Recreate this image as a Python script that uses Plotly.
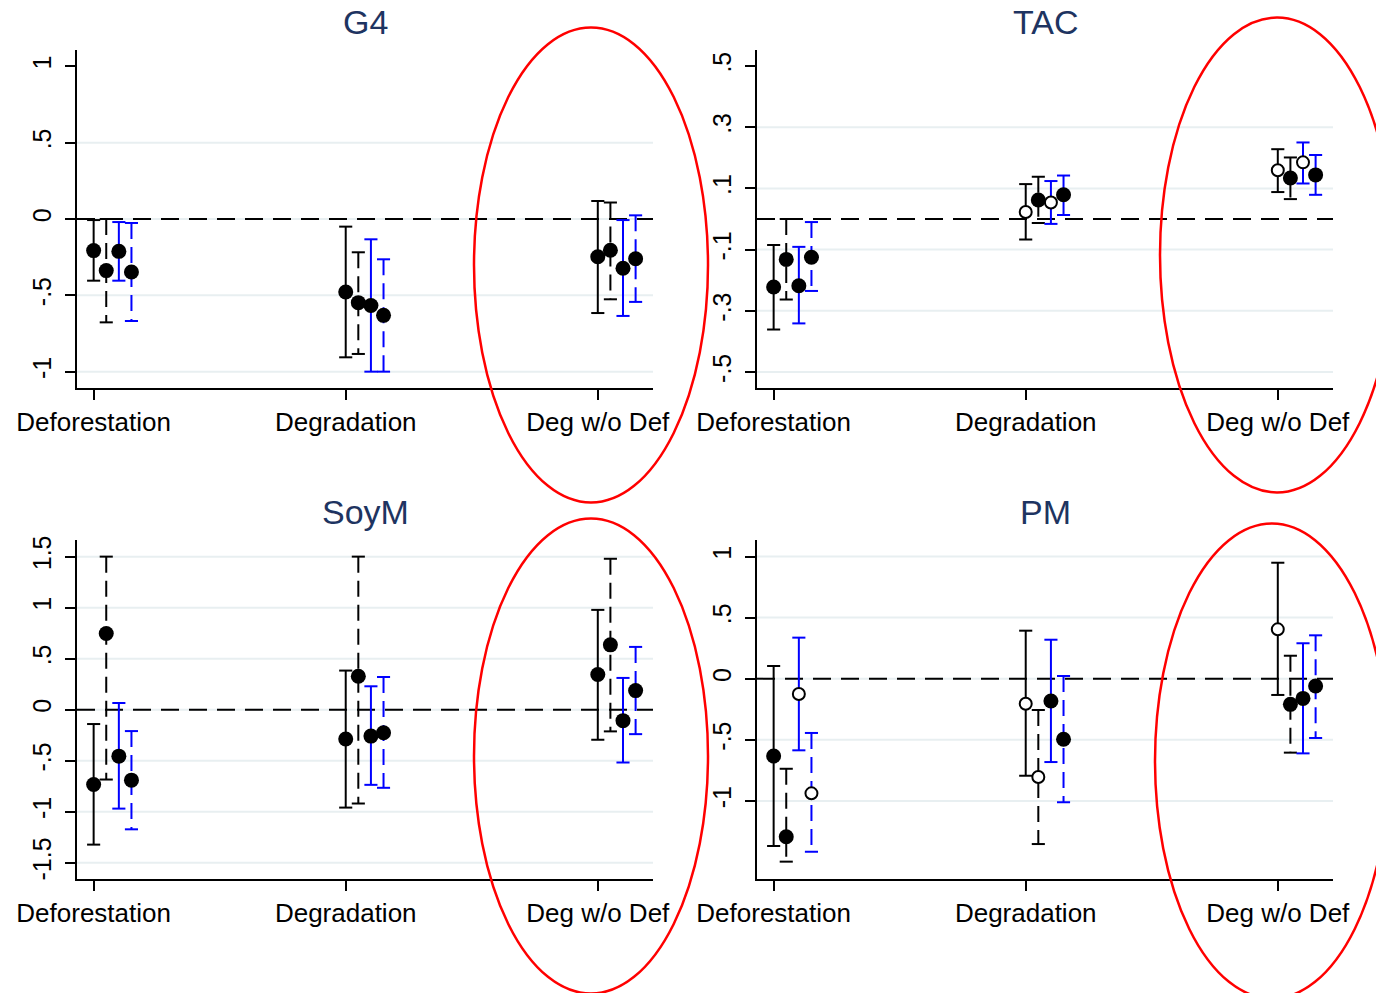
import plotly.graph_objects as go

W, H = 1376, 993

categories = ["Deforestation", "Degradation", "Deg w/o Def"]
cat_pos = [1, 2, 3]
series_offset = [0.0, 0.05, 0.10, 0.15]
series_color = ["black", "black", "#0000ff", "#0000ff"]
series_dash = ["solid", "16px,8px", "solid", "16px,8px"]

# ---- G4 ----
g4_est = [[-0.207, -0.478, -0.247], [-0.338, -0.548, -0.205],
          [-0.212, -0.567, -0.323], [-0.347, -0.631, -0.260]]
g4_lo = [[-0.404, -0.906, -0.616], [-0.677, -0.884, -0.526],
         [-0.404, -1.000, -0.635], [-0.668, -1.000, -0.543]]
g4_hi = [[-0.007, -0.050, 0.118], [0.000, -0.218, 0.108],
         [-0.020, -0.133, -0.007], [-0.026, -0.264, 0.024]]
g4_open = [[False] * 3] * 4

# ---- TAC ----
tac_est = [[-0.222, 0.023, 0.159], [-0.132, 0.062, 0.134],
           [-0.218, 0.054, 0.185], [-0.125, 0.079, 0.144]]
tac_lo = [[-0.361, -0.067, 0.088], [-0.263, -0.013, 0.065],
          [-0.341, -0.016, 0.116], [-0.235, 0.013, 0.079]]
tac_hi = [[-0.085, 0.114, 0.228], [0.000, 0.138, 0.201],
          [-0.091, 0.124, 0.250], [-0.010, 0.142, 0.209]]
tac_open = [[False, True, True], [False, False, False],
            [False, True, True], [False, False, False]]

# ---- SoyM ----
soy_est = [[-0.734, -0.288, 0.344], [0.746, 0.327, 0.635],
           [-0.456, -0.259, -0.108], [-0.691, -0.226, 0.187]]
soy_lo = [[-1.323, -0.960, -0.295], [-0.685, -0.920, -0.213],
          [-0.970, -0.737, -0.518], [-1.173, -0.766, -0.240]]
soy_hi = [[-0.141, 0.383, 0.978], [1.500, 1.500, 1.479],
          [0.065, 0.229, 0.311], [-0.210, 0.320, 0.615]]
soy_open = [[False] * 3] * 4

# ---- PM ----
pm_est = [[-0.633, -0.205, 0.404], [-1.293, -0.804, -0.210],
          [-0.125, -0.182, -0.161], [-0.938, -0.496, -0.060]]
pm_lo = [[-1.369, -0.794, -0.133], [-1.497, -1.353, -0.605],
         [-0.586, -0.682, -0.611], [-1.416, -1.011, -0.485]]
pm_hi = [[0.104, 0.393, 0.949], [-0.737, -0.256, 0.188],
         [0.336, 0.319, 0.290], [-0.444, 0.022, 0.355]]
pm_open = [[False, True, True], [False, True, False],
           [True, False, False], [True, False, False]]

# y-axis ticks / labels / gridlines per panel
g4_ticks, g4_text = [1, 0.5, 0, -0.5, -1], ["1", ".5", "0", "-.5", "-1"]
g4_grid = [0.5, 0, -0.5, -1]
tac_ticks, tac_text = [0.5, 0.3, 0.1, -0.1, -0.3, -0.5], [".5", ".3", ".1", "-.1", "-.3", "-.5"]
tac_grid = [0.3, 0.1, -0.1, -0.3, -0.5]
soy_ticks, soy_text = [1.5, 1, 0.5, 0, -0.5, -1, -1.5], ["1.5", "1", ".5", "0", "-.5", "-1", "-1.5"]
soy_grid = [1.5, 1, 0.5, 0, -0.5, -1, -1.5]
pm_ticks, pm_text = [1, 0.5, 0, -0.5, -1], ["1", ".5", "0", "-.5", "-1"]
pm_grid = [1, 0.5, 0, -0.5, -1]

panels = [
    dict(title="G4", est=g4_est, lo=g4_lo, hi=g4_hi, open=g4_open,
         ticks=g4_ticks, text=g4_text, grid=g4_grid, yr=[-1.107, 1.107],
         box=(77, 653, 50, 388)),
    dict(title="TAC", est=tac_est, lo=tac_lo, hi=tac_hi, open=tac_open,
         ticks=tac_ticks, text=tac_text, grid=tac_grid, yr=[-0.552, 0.552],
         box=(757, 1333, 50, 388)),
    dict(title="SoyM", est=soy_est, lo=soy_lo, hi=soy_hi, open=soy_open,
         ticks=soy_ticks, text=soy_text, grid=soy_grid, yr=[-1.66, 1.663],
         box=(77, 653, 540, 879)),
    dict(title="PM", est=pm_est, lo=pm_lo, hi=pm_hi, open=pm_open,
         ticks=pm_ticks, text=pm_text, grid=pm_grid, yr=[-1.639, 1.135],
         box=(757, 1333, 540, 879)),
]

FONT = "Liberation Sans, Arial, sans-serif"
CAP = 0.026
XR = [0.934, 3.219]

fig = go.Figure()
shapes = []
annotations = []
layout_axes = {}

for i, p in enumerate(panels):
    n = "" if i == 0 else str(i + 1)
    xa, ya = "x" + n, "y" + n
    x0p, x1p, y0p, y1p = p["box"]

    layout_axes["xaxis" + n] = dict(
        domain=[x0p / W, x1p / W], range=XR, anchor=ya, automargin=False,
        tickvals=cat_pos, ticktext=categories, ticks="outside", ticklen=10,
        tickwidth=1.5, tickcolor="black", showline=True, linecolor="black",
        linewidth=2, showgrid=False, zeroline=False,
        tickfont=dict(family=FONT, size=26, color="black"), fixedrange=True)
    layout_axes["yaxis" + n] = dict(
        domain=[1 - y1p / H, 1 - y0p / H], range=p["yr"], anchor=xa,
        automargin=False,
        tickvals=p["ticks"], ticktext=p["text"], tickangle=-90,
        ticks="outside", ticklen=10, tickwidth=1.5, tickcolor="black",
        showline=True, linecolor="black", linewidth=2, showgrid=False,
        zeroline=False, tickfont=dict(family=FONT, size=25, color="black"),
        ticklabelstandoff=4, fixedrange=True)

    for g in p["grid"]:
        shapes.append(dict(type="line", xref=xa + " domain", yref=ya,
                           x0=0, x1=1, y0=g, y1=g, layer="below",
                           line=dict(color="#e8eff1", width=2)))
    shapes.append(dict(type="line", xref=xa + " domain", yref=ya,
                       x0=0, x1=1, y0=0, y1=0, layer="below",
                       line=dict(color="black", width=2, dash="18px,10px")))

    for s in range(4):
        xs = [c + series_offset[s] for c in cat_pos]
        est, lo, hi, op = p["est"][s], p["lo"][s], p["hi"][s], p["open"][s]
        # confidence interval spines
        lx, ly = [], []
        for x, a, b in zip(xs, lo, hi):
            lx += [x, x, None]
            ly += [b, a, None]
        fig.add_trace(go.Scatter(x=lx, y=ly, mode="lines", xaxis=xa, yaxis=ya,
                                 line=dict(color=series_color[s], width=2,
                                           dash=series_dash[s]),
                                 hoverinfo="skip", showlegend=False))
        # caps
        cx, cy = [], []
        for x, a, b in zip(xs, lo, hi):
            cx += [x - CAP, x + CAP, None, x - CAP, x + CAP, None]
            cy += [a, a, None, b, b, None]
        fig.add_trace(go.Scatter(x=cx, y=cy, mode="lines", xaxis=xa, yaxis=ya,
                                 line=dict(color=series_color[s], width=2),
                                 hoverinfo="skip", showlegend=False))
        # point estimates: filled and hollow markers
        fx = [x for x, o in zip(xs, op) if not o]
        fy = [v for v, o in zip(est, op) if not o]
        hx = [x for x, o in zip(xs, op) if o]
        hy = [v for v, o in zip(est, op) if o]
        if fx:
            fig.add_trace(go.Scatter(
                x=fx, y=fy, mode="markers", xaxis=xa, yaxis=ya,
                showlegend=False, opacity=1,
                marker=dict(symbol="circle", color="#000000", size=15,
                            opacity=1, line=dict(width=0))))
        if hx:
            fig.add_trace(go.Scatter(
                x=hx, y=hy, mode="markers", xaxis=xa, yaxis=ya,
                showlegend=False, opacity=1,
                marker=dict(symbol="circle", color="#ffffff", size=12,
                            opacity=1, line=dict(color="#000000", width=2))))

    annotations.append(dict(text=p["title"], xref="paper", yref="paper",
                            x=(x0p + x1p) / 2 / W, y=1 - (y0p - 28) / H,
                            xanchor="center", yanchor="middle", showarrow=False,
                            font=dict(family=FONT, size=34, color="#1e3461")))

# highlight ellipses around the "Deg w/o Def" group
ellipses = [(591, 265, 117, 237.5), (1277, 255, 117, 237.5),
            (591, 756, 117, 237.5), (1272, 761, 117, 237.5)]
for cx, cy, rx, ry in ellipses:
    shapes.append(dict(type="circle", xref="paper", yref="paper",
                       x0=(cx - rx) / W, x1=(cx + rx) / W,
                       y0=1 - (cy + ry) / H, y1=1 - (cy - ry) / H,
                       line=dict(color="#ff0000", width=2.5), layer="above"))

fig.update_layout(width=W, height=H, margin=dict(l=0, r=0, t=0, b=0),
                  paper_bgcolor="white", plot_bgcolor="white",
                  shapes=shapes, annotations=annotations, showlegend=False,
                  **layout_axes)

fig.write_html("out.html")
